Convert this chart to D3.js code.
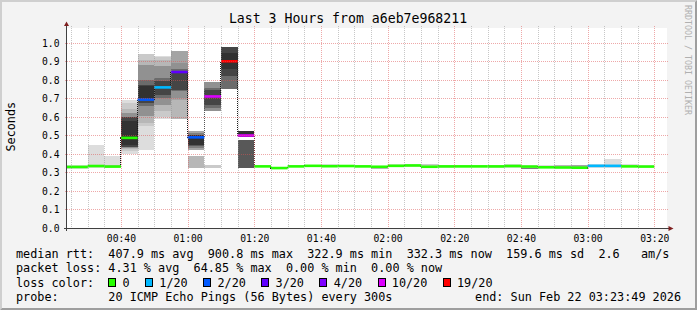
<!DOCTYPE html>
<html>
<head>
<meta charset="utf-8">
<script src="https://cdn.jsdelivr.net/npm/d3@7"></script>
<style>
  body { margin: 0; background: #f3f3f3; }
  svg { display: block; font-family: "DejaVu Sans Mono", monospace; }
</style>
</head>
<body>
<svg id="chart" width="697" height="310"></svg>
<script>
// SmokePing style latency graph, last 3 hours, 300s steps
const TITLE = 'Last 3 Hours from a6eb7e968211';
const RANGE = ['2026-02-22 00:23:49', '2026-02-22 03:23:49'];

const binStart = [
    '00:20', '00:25', '00:30', '00:35', '00:40', '00:45', '00:50', '00:55',
    '01:00', '01:05', '01:10', '01:15', '01:20', '01:25', '01:30', '01:35',
    '01:40', '01:45', '01:50', '01:55', '02:00', '02:05', '02:10', '02:15',
    '02:20', '02:25', '02:30', '02:35', '02:40', '02:45', '02:50', '02:55',
    '03:00', '03:05', '03:10', '03:15',
];

// median rtt in seconds
const median = [
    0.330, 0.330, 0.335, 0.332, 0.487, 0.694, 0.760, 0.843, 0.490, 0.711, 0.901, 0.500,
    0.333, 0.324, 0.333, 0.336, 0.334, 0.335, 0.333, 0.331, 0.336, 0.338, 0.331, 0.333,
    0.333, 0.333, 0.333, 0.335, 0.332, 0.328, 0.327, 0.326, 0.336, 0.336, 0.333, 0.332,
];

// lost pings out of 20
const loss = [
    0, 0, 0, 0, 0, 2, 1, 3, 2, 10, 19, 10,
    0, 0, 0, 0, 0, 0, 0, 0, 0, 0, 0, 0,
    0, 0, 0, 0, 0, 0, 0, 0, 1, 1, 0, 0,
];

// smoke bands per bin: [low, high, ping pair rank 1..10]
const smoke = [
    [[0.318, 0.342, 1], [0.326, 0.336, 4]],
    [[0.318, 0.342, 1], [0.326, 0.336, 4]],
    [[0.326, 0.450, 1], [0.330, 0.342, 3]],
    [[0.326, 0.387, 1], [0.330, 0.342, 3]],
    [[0.400, 0.693, 1], [0.415, 0.675, 2], [0.425, 0.645, 3], [0.435, 0.620, 5], [0.440, 0.600, 9], [0.450, 0.580, 10]],
    [[0.423, 0.935, 1], [0.550, 0.942, 2], [0.567, 0.910, 3], [0.603, 0.883, 5], [0.657, 0.800, 7], [0.675, 0.775, 9], [0.690, 0.765, 10]],
    [[0.589, 0.931, 1], [0.600, 0.925, 2], [0.630, 0.910, 3], [0.667, 0.874, 5], [0.703, 0.811, 7], [0.720, 0.793, 9]],
    [[0.589, 0.930, 3], [0.693, 0.955, 4], [0.700, 0.890, 5], [0.738, 0.860, 7], [0.745, 0.850, 9]],
    [[0.324, 0.387, 3], [0.423, 0.526, 4], [0.435, 0.515, 6], [0.445, 0.505, 8], [0.450, 0.500, 10]],
    [[0.324, 0.342, 2], [0.630, 0.787, 5], [0.650, 0.757, 7], [0.667, 0.745, 9]],
    [[0.753, 0.976, 7], [0.820, 0.976, 9], [0.860, 0.946, 10]],
    [[0.324, 0.477, 8], [0.492, 0.526, 10]],
    [[0.328, 0.338, 1]],
    [[0.320, 0.330, 1]],
    [[0.328, 0.338, 1]],
    [[0.330, 0.341, 1]],
    [[0.330, 0.347, 1], [0.331, 0.343, 3]],
    [[0.330, 0.341, 1]],
    [[0.328, 0.338, 1]],
    [[0.319, 0.335, 3]],
    [[0.330, 0.345, 1]],
    [[0.332, 0.345, 1]],
    [[0.326, 0.345, 2]],
    [[0.322, 0.338, 1]],
    [[0.328, 0.338, 1]],
    [[0.328, 0.341, 1]],
    [[0.325, 0.343, 1]],
    [[0.325, 0.345, 1]],
    [[0.320, 0.343, 1], [0.320, 0.325, 6]],
    [[0.326, 0.343, 1]],
    [[0.325, 0.341, 3], [0.327, 0.330, 8]],
    [[0.318, 0.339, 4], [0.318, 0.322, 10]],
    [[0.326, 0.345, 1]],
    [[0.322, 0.375, 1]],
    [[0.328, 0.345, 1]],
    [[0.328, 0.338, 1]],
];

const lossThresholds = [1, 2, 3, 4, 10, 19];
const lossColors = ['#26ff00', '#00b8ff', '#0059ff', '#5e00ff', '#7e00ff', '#dd00ff', '#ff0000'];
const lossLabels = ['0', '1/20', '2/20', '3/20', '4/20', '10/20', '19/20'];

const yTicks = [0, 0.1, 0.2, 0.3, 0.4, 0.5, 0.6, 0.7, 0.8, 0.9, 1.0];
const Y_MAX = 1.081;

const legendLines = [
    'median rtt:  407.9 ms avg  900.8 ms max  322.9 ms min  332.3 ms now  159.6 ms sd  2.6   am/s',
    'packet loss: 4.31 % avg  64.85 % max  0.00 % min  0.00 % now',
];
const lossLegendTitle = 'loss color:';
const probeLine = 'probe:       20 ICMP Echo Pings (56 Bytes) every 300s';
const endLine = 'end: Sun Feb 22 03:23:49 2026';

function draw() {
    const svg = d3.select('#chart');
    const W = 697, H = 310;
    const plot = { left: 67, right: 667, top: 28, bottom: 228 };

    // frame
    svg.append('rect').attr('width', W).attr('height', H).attr('fill', '#f3f3f3');
    svg.append('path').attr('fill', '#cfcfcf')
        .attr('d', `M0,0H${W}L${W - 2},2H2V${H - 2}L0,${H}Z`);
    svg.append('path').attr('fill', '#9e9e9e')
        .attr('d', `M${W},0V${H}H0L2,${H - 2}H${W - 2}V2Z`);

    svg.append('rect')
        .attr('x', plot.left).attr('y', plot.top)
        .attr('width', plot.right - plot.left).attr('height', plot.bottom - plot.top)
        .attr('fill', '#ffffff');

    svg.append('clipPath').attr('id', 'canvasClip')
        .append('rect')
        .attr('x', plot.left).attr('y', plot.top)
        .attr('width', plot.right - plot.left).attr('height', plot.bottom - plot.top);

    const parseRange = d3.timeParse('%Y-%m-%d %H:%M:%S');
    const parseBin = d3.timeParse('%Y-%m-%d %H:%M');
    const x = d3.scaleTime().domain(RANGE.map(parseRange)).range([plot.left, plot.right]);
    const y = d3.scaleLinear().domain([0, Y_MAX]).range([plot.bottom, plot.top]);

    const bins = binStart.map((s, i) => {
        const t0 = parseBin('2026-02-22 ' + s);
        return { t0, t1: d3.timeMinute.offset(t0, 5), median: median[i], loss: loss[i], smoke: smoke[i] };
    });

    const grey = rank => {
        const v = Math.floor(190 / 10 * (10 - rank)) + 50;
        return `rgb(${v},${v},${v})`;
    };
    const lossColor = d3.scaleThreshold().domain(lossThresholds).range(lossColors);

    const data = svg.append('g').attr('clip-path', 'url(#canvasClip)');

    // smoke
    data.selectAll('g.bin')
        .data(bins)
        .join('g')
        .attr('class', 'bin')
        .selectAll('rect')
        .data(d => d.smoke.map(s => ({ t0: d.t0, t1: d.t1, lo: s[0], hi: s[1], rank: s[2] })))
        .join('rect')
        .attr('x', d => x(d.t0))
        .attr('width', d => x(d.t1) - x(d.t0))
        .attr('y', d => y(d.hi))
        .attr('height', d => Math.max(1, y(d.lo) - y(d.hi)))
        .attr('fill', d => grey(d.rank))
        .attr('shape-rendering', 'crispEdges');

    // median step line (dark, dotted transitions)
    const stepPts = [];
    bins.forEach(b => { stepPts.push([x(b.t0), y(b.median)], [x(b.t1), y(b.median)]); });
    data.append('path')
        .attr('d', d3.line()(stepPts))
        .attr('fill', 'none')
        .attr('stroke', '#1a1a1a')
        .attr('stroke-width', 1)
        .attr('stroke-dasharray', '1,1')
        .attr('shape-rendering', 'crispEdges');

    // median coloured by loss
    data.selectAll('line.med')
        .data(bins)
        .join('line')
        .attr('class', 'med')
        .attr('x1', d => x(d.t0)).attr('x2', d => x(d.t1))
        .attr('y1', d => y(d.median)).attr('y2', d => y(d.median))
        .attr('stroke', d => lossColor(d.loss))
        .attr('stroke-width', 2.6);

    // grid on top
    const minorTicks = x.ticks(d3.timeMinute.every(5)).filter(t => t.getMinutes() % 20 !== 0);
    const majorTicks = x.ticks(d3.timeMinute.every(20));
    const grid = svg.append('g').attr('shape-rendering', 'crispEdges').attr('stroke-width', 1);

    grid.selectAll('line.minor')
        .data(minorTicks)
        .join('line')
        .attr('x1', d => Math.round(x(d)) + 0.5).attr('x2', d => Math.round(x(d)) + 0.5)
        .attr('y1', plot.top - 2).attr('y2', plot.bottom + 2)
        .attr('stroke', 'rgba(143,143,143,0.5)')
        .attr('stroke-dasharray', '1,1');

    grid.selectAll('line.majorx')
        .data(majorTicks)
        .join('line')
        .attr('x1', d => Math.round(x(d)) + 0.5).attr('x2', d => Math.round(x(d)) + 0.5)
        .attr('y1', plot.top - 2).attr('y2', plot.bottom + 2)
        .attr('stroke', 'rgba(222,81,81,0.5)')
        .attr('stroke-dasharray', '1,1');

    grid.selectAll('line.majory')
        .data(yTicks.slice(1))
        .join('line')
        .attr('x1', plot.left - 2).attr('x2', plot.right + 2)
        .attr('y1', d => Math.round(y(d)) + 0.5).attr('y2', d => Math.round(y(d)) + 0.5)
        .attr('stroke', 'rgba(222,81,81,0.5)')
        .attr('stroke-dasharray', '1,1');

    // axes
    svg.append('line')
        .attr('x1', plot.left - 0.5).attr('x2', plot.left - 0.5)
        .attr('y1', plot.bottom + 3).attr('y2', plot.top - 4)
        .attr('stroke', '#404040').attr('shape-rendering', 'crispEdges');
    svg.append('line')
        .attr('x1', plot.left - 3).attr('x2', plot.right + 4)
        .attr('y1', plot.bottom + 0.5).attr('y2', plot.bottom + 0.5)
        .attr('stroke', '#404040').attr('shape-rendering', 'crispEdges');
    svg.append('path').attr('fill', '#7f1f1f')
        .attr('d', `M${plot.left - 3},${plot.top - 2}L${plot.left - 0.5},${plot.top - 6.5}L${plot.left + 2},${plot.top - 2}Z`);
    svg.append('path').attr('fill', '#7f1f1f')
        .attr('d', `M${plot.right + 1.5},${plot.bottom - 2}L${plot.right + 6.5},${plot.bottom + 0.5}L${plot.right + 1.5},${plot.bottom + 3}Z`);

    const xAxis = svg.append('g')
        .attr('transform', `translate(0,${plot.bottom})`)
        .call(d3.axisBottom(x).tickValues(majorTicks).tickFormat(d3.timeFormat('%H:%M')).tickSize(0));
    xAxis.select('.domain').remove();
    xAxis.selectAll('text')
        .attr('y', 13.7).attr('dy', null)
        .attr('font-family', '"DejaVu Sans Mono", monospace')
        .attr('font-size', 9.7).attr('fill', '#000');

    const yAxis = svg.append('g')
        .attr('transform', `translate(${plot.left},0)`)
        .call(d3.axisLeft(y).tickValues(yTicks).tickFormat(d3.format('.1f')).tickSize(0).tickPadding(7.5));
    yAxis.select('.domain').remove();
    yAxis.selectAll('text')
        .attr('dy', '0.34em')
        .attr('font-family', '"DejaVu Sans Mono", monospace')
        .attr('font-size', 9.7).attr('fill', '#000');

    // titles
    svg.append('text')
        .attr('x', 348).attr('y', 23.3)
        .attr('text-anchor', 'middle')
        .attr('font-size', 13.2)
        .text(TITLE);

    svg.append('text')
        .attr('transform', 'translate(15,126.7) rotate(-90)')
        .attr('text-anchor', 'middle')
        .attr('font-size', 11.8)
        .text('Seconds');

    svg.append('text')
        .attr('transform', 'translate(685,5) rotate(90)')
        .attr('font-size', 8.3)
        .attr('fill', '#b0b0b0')
        .text('RRDTOOL / TOBI OETIKER');

    // legend (monospace, spaces kept)
    const legend = svg.append('g').attr('font-size', 11.8);
    const addText = (xPos, yPos, str) => legend.append('text')
        .attr('xml:space', 'preserve')
        .style('white-space', 'pre')
        .attr('x', xPos).attr('y', yPos)
        .text(str);

    legendLines.forEach((line, i) => addText(16, 258.3 + i * 14.1, line));

    const lossY = 258.3 + 2 * 14.1;
    addText(16, lossY, lossLegendTitle);
    let cx = 108.3;
    lossLabels.forEach((label, i) => {
        legend.append('rect')
            .attr('x', cx + 0.5).attr('y', lossY - 8.3)
            .attr('width', 7).attr('height', 8)
            .attr('fill', lossColors[i])
            .attr('stroke', '#000').attr('stroke-width', 1)
            .attr('shape-rendering', 'crispEdges');
        const t = addText(cx + 14.2, lossY, label);
        cx = cx + 14.2 + t.node().getComputedTextLength() + 15.5;
    });

    const probeY = 258.3 + 3 * 14.1;
    addText(16, probeY, probeLine);
    addText(681, probeY, endLine).attr('text-anchor', 'end');
}

draw();
</script>
</body>
</html>
